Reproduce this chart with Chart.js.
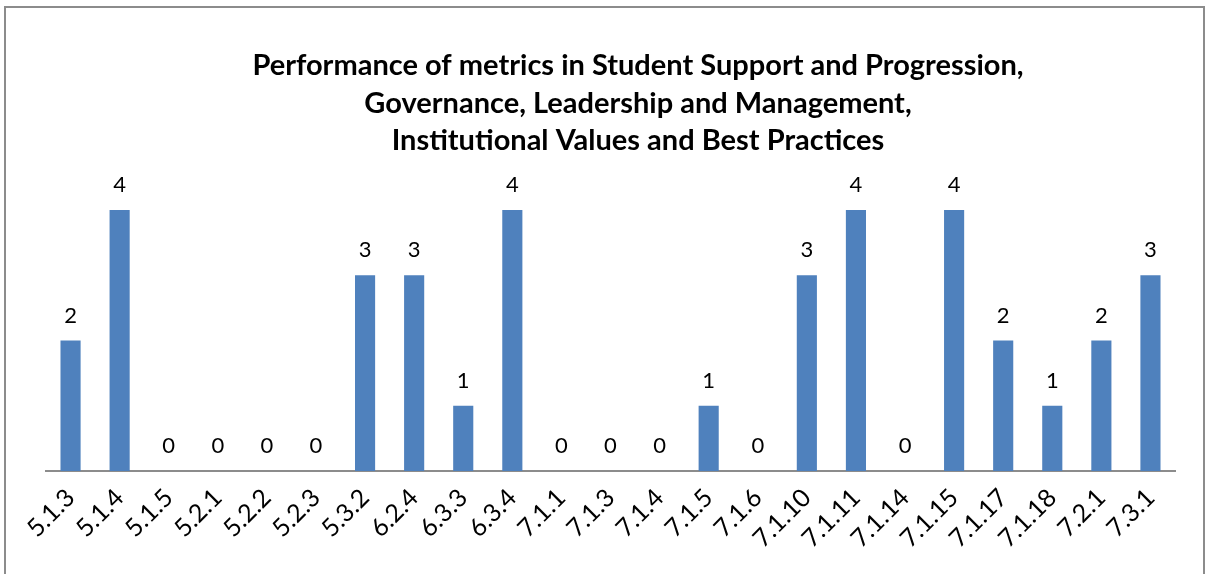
<!DOCTYPE html>
<html>
<head>
<meta charset="utf-8">
<script src="https://cdn.jsdelivr.net/npm/chart.js@4/dist/chart.umd.min.js"></script>
<style>
  html, body { margin: 0; padding: 0; background: #fff; overflow: hidden; }
  #wrap { position: relative; width: 1207px; height: 574px; }
  #frame { position: absolute; left: 4px; top: 6px; width: 1197px; height: 600px;
           border: 2px solid #8c8c8c; box-sizing: content-box; }
  canvas { position: absolute; left: 0; top: 0; }
</style>
</head>
<body>
<div id="wrap">
  <div id="frame"></div>
  <canvas id="metricsChart" width="1207" height="574"></canvas>
</div>
<script>
// --- Chart data ---
const metricLabels = ['5.1.3', '5.1.4', '5.1.5', '5.2.1', '5.2.2', '5.2.3', '5.3.2', '6.2.4', '6.3.3', '6.3.4',
    '7.1.1', '7.1.3', '7.1.4', '7.1.5', '7.1.6', '7.1.10', '7.1.11', '7.1.14', '7.1.15', '7.1.17',
    '7.1.18', '7.2.1', '7.3.1'];
const metricValues = [2, 4, 0, 0, 0, 0, 3, 3, 1, 4, 0, 0, 0, 1, 0, 3, 4, 0, 4, 2, 1, 2, 3];
const titleLines = [
    'Performance of metrics in Student Support and Progression,',
    'Governance, Leadership and Management,',
    'Institutional Values and Best Practices'
];

const FONT = 'Lato, "Open Sans", sans-serif';

// Draws the value above every bar
const valueLabels = {
    id: 'valueLabels',
    afterDatasetsDraw(chart) {
        const ctx = chart.ctx;
        const meta = chart.getDatasetMeta(0);
        ctx.save();
        ctx.font = '22px ' + FONT;
        ctx.fillStyle = '#000';
        ctx.textAlign = 'center';
        ctx.textBaseline = 'middle';
        meta.data.forEach((bar, i) => {
            ctx.fillText(String(metricValues[i]), bar.x, bar.y - 25);
        });
        ctx.restore();
    }
};

// Three line bold title, centred a little right of the plot
const titleBlock = {
    id: 'titleBlock',
    afterDraw(chart) {
        const ctx = chart.ctx;
        ctx.save();
        ctx.font = 'bold 29px ' + FONT;
        ctx.fillStyle = '#000';
        ctx.textAlign = 'center';
        ctx.textBaseline = 'middle';
        titleLines.forEach((line, i) => {
            ctx.fillText(line, 638, 66 + i * 37.5);
        });
        ctx.restore();
    }
};

const ctx = document.getElementById('metricsChart').getContext('2d');

new Chart(ctx, {
    type: 'bar',
    data: {
        labels: metricLabels,
        datasets: [{
            data: metricValues,
            backgroundColor: '#4f81bd',
            borderWidth: 0,
            categoryPercentage: 1,
            barPercentage: 0.41
        }]
    },
    options: {
        responsive: false,
        animation: false,
        layout: {
            padding: { left: 46, right: 32, top: 210, bottom: 0 }
        },
        plugins: {
            legend: { display: false },
            title: { display: false },
            tooltip: { enabled: false }
        },
        scales: {
            y: {
                display: false,
                min: 0,
                max: 4
            },
            x: {
                grid: { display: false, drawTicks: false },
                border: { display: true, color: '#8c8c8c', width: 2 },
                ticks: {
                    color: '#000',
                    font: { family: FONT, size: 25 },
                    minRotation: 45,
                    maxRotation: 45,
                    padding: 12,
                    autoSkip: false
                },
                afterFit(scale) {
                    scale.height = 103;
                }
            }
        }
    },
    plugins: [valueLabels, titleBlock]
});
</script>
</body>
</html>
